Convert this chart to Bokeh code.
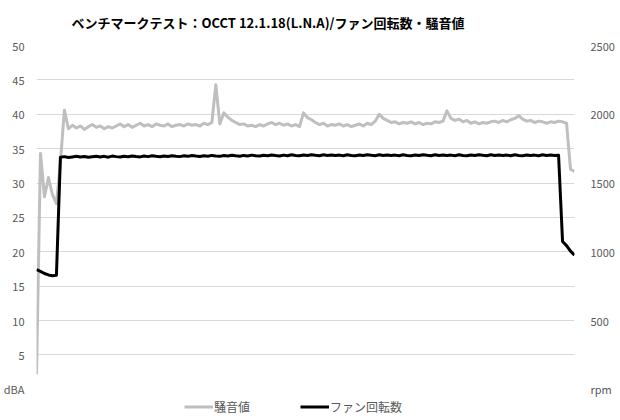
from bokeh.plotting import figure
from bokeh.models import Range1d, LinearAxis, FixedTicker, Legend, LegendItem
from bokeh.embed import file_html
from bokeh.resources import INLINE

title_text = "ベンチマークテスト：OCCT 12.1.18(L.N.A)/ファン回転数・騒音値"
noise_label = "騒音値"
fan_label = "ファン回転数"
left_unit = "dBA"
right_unit = "rpm"

noise_dba = [
    2.2, 34.3, 28.0, 30.8, 28.3, 27.0, 33.0, 40.6, 37.9, 38.4,
    38.0, 38.3, 37.8, 38.2, 38.5, 38.1, 38.3, 37.9, 38.2, 38.0,
    38.3, 38.6, 38.2, 38.5, 38.1, 38.4, 38.7, 38.3, 38.5, 38.2,
    38.6, 38.4, 38.3, 38.6, 38.2, 38.4, 38.5, 38.3, 38.6, 38.4,
    38.5, 38.3, 38.7, 38.5, 38.8, 44.3, 38.6, 40.2, 39.6, 39.1,
    38.8, 38.5, 38.6, 38.3, 38.4, 38.2, 38.5, 38.3, 38.6, 38.8,
    38.5, 38.7, 38.4, 38.6, 38.3, 38.5, 38.2, 40.2, 39.5, 39.2,
    38.8, 38.5, 38.7, 38.3, 38.5, 38.4, 38.6, 38.3, 38.5, 38.2,
    38.4, 38.6, 38.3, 38.7, 38.5, 39.0, 40.0, 39.4, 39.1, 38.8,
    38.9, 38.6, 38.8, 38.7, 38.9, 38.6, 38.8, 38.5, 38.7, 38.6,
    38.9, 38.8, 39.0, 40.5, 39.4, 39.1, 39.3, 38.9, 39.1, 38.7,
    38.9, 38.6, 38.8, 38.7, 38.9, 39.0, 38.8, 39.1, 38.9, 39.2,
    39.4, 39.8, 39.3, 39.0, 39.1, 38.8, 39.0, 38.9, 38.7, 38.9,
    38.8, 39.0, 38.9, 38.7, 32.0, 31.7,
]

fan_rpm = [
    870, 858, 842, 832, 826, 830,
    1688, 1692, 1686, 1690, 1694, 1689, 1693, 1687, 1691, 1695,
    1690, 1694, 1688, 1696, 1692, 1689, 1695, 1691, 1697, 1693,
    1690, 1696, 1692, 1698, 1694, 1691, 1697, 1693, 1699, 1695,
    1692, 1698, 1694, 1700, 1696, 1693, 1699, 1695, 1701, 1697,
    1694, 1700, 1696, 1702, 1698, 1695, 1701, 1697, 1703, 1699,
    1696, 1702, 1698, 1704, 1700, 1697, 1703, 1699, 1705, 1701,
    1698, 1704, 1700, 1706, 1702, 1699, 1705, 1701, 1704, 1700,
    1703, 1699, 1705, 1701, 1698, 1704, 1700, 1706, 1702, 1699,
    1705, 1701, 1704, 1700, 1703, 1699, 1705, 1701, 1698, 1704,
    1700, 1706, 1702, 1699, 1705, 1701, 1704, 1700, 1703, 1699,
    1705, 1701, 1698, 1704, 1700, 1706, 1702, 1699, 1705, 1701,
    1704, 1700, 1703, 1699, 1705, 1701, 1698, 1704, 1700, 1703,
    1699, 1705, 1701, 1704, 1700, 1702,
    1075, 1045, 1005, 975,
]

sample = list(range(len(noise_dba)))

left_ticks = [0, 5, 10, 15, 20, 25, 30, 35, 40, 45, 50]
grid_ticks = [5, 10, 15, 20, 25, 30, 35, 40, 45]
right_ticks = [0, 500, 1000, 1500, 2000, 2500]

FONT = "Noto Sans CJK JP"
LABEL_COLOR = "#595959"

# the strip below 0 (same px per dBA as above it) holds the legend
p = figure(width=617, height=416, output_backend="svg", toolbar_location=None,
           x_range=Range1d(0, len(noise_dba) - 1), y_range=Range1d(-3.95, 50),
           min_border_left=34, min_border_right=43, min_border_top=0,
           min_border_bottom=0)
p.extra_y_ranges = {"rpm": Range1d(-197.5, 2500)}

p.title.text = title_text
p.title.text_font = FONT
p.title.text_font_size = "13px"
p.title.text_font_style = "bold"
p.title.text_color = "#000000"
p.title.align = "left"
p.title.vertical_align = "top"
p.title.offset = 35
p.title.standoff = 24

p.outline_line_color = None
p.background_fill_color = "white"
p.border_fill_color = "white"
p.xaxis.visible = False
p.xgrid.visible = False
p.ygrid.ticker = FixedTicker(ticks=grid_ticks)
p.ygrid.grid_line_color = "#D9D9D9"
p.ygrid.grid_line_width = 1


def style_axis(ax, standoff):
    ax.axis_line_color = None
    ax.major_tick_line_color = None
    ax.minor_tick_line_color = None
    ax.major_tick_out = 0
    ax.major_tick_in = 0
    ax.minor_tick_out = 0
    ax.major_label_standoff = standoff
    ax.major_label_text_font = FONT
    ax.major_label_text_font_size = "11px"
    ax.major_label_text_color = LABEL_COLOR


ya = p.yaxis[0]
ya.ticker = FixedTicker(ticks=left_ticks)
ya.major_label_overrides = {0: left_unit}
style_axis(ya, 12)

ra = LinearAxis(y_range_name="rpm", ticker=FixedTicker(ticks=right_ticks))
ra.major_label_overrides = {0: right_unit}
style_axis(ra, 16)
p.add_layout(ra, "right")

r_noise = p.line(sample, noise_dba, line_color="#BFBFBF", line_width=3,
                 line_join="round")
r_fan = p.line(sample, fan_rpm, y_range_name="rpm", line_color="#000000",
               line_width=3, line_join="round")

legend = Legend(items=[LegendItem(label=noise_label, renderers=[r_noise]),
                       LegendItem(label=fan_label, renderers=[r_fan])],
                orientation="horizontal", location=(148, 1),
                glyph_width=29, glyph_height=11, label_standoff=1, spacing=50,
                padding=0, margin=0, border_line_color=None,
                background_fill_alpha=0, label_text_font=FONT,
                label_text_font_size="12px", label_text_color=LABEL_COLOR,
                label_height=11)
p.add_layout(legend)

open("out.html", "w").write(file_html(p, INLINE))
